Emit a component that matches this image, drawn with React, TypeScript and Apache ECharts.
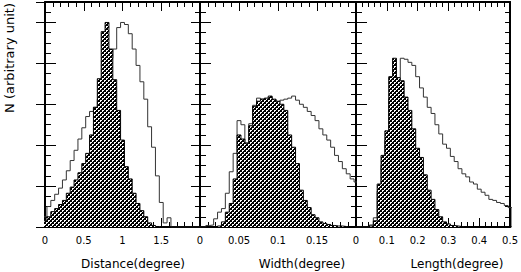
import React, { useEffect, useRef } from "react";
import * as echarts from "echarts";

// Bin widths (bins are centred on multiples of the width)
const distBinWidth = 0.05;
const widthBinWidth = 0.005;
const lengthBinWidth = 0.0125;

// Distance panel (0 - 2 degree)
const distHatched = [0.6, 1.0, 1.5, 1.8, 2.2, 2.6, 3.3, 3.9, 4.6, 5.3, 6.2, 7.2, 9.0, 11.7, 14.5, 19.1, 20.0, 17.4, 14.4, 11.4, 8.5, 5.9, 4.7, 3.3, 2.3, 1.6, 1.0, 0.4, 0.15, 0.05, 0, 0, 0, 0, 0, 0, 0, 0, 0, 0, 0];
const distOutline = [1.0, 2.0, 2.6, 3.2, 3.8, 4.6, 5.5, 6.5, 7.5, 8.6, 9.7, 10.8, 11.3, 11.7, 12.5, 13.5, 15.0, 16.5, 17.4, 19.5, 20.0, 19.8, 18.9, 17.4, 15.8, 14.2, 12.5, 9.8, 7.8, 5.0, 2.4, 0.4, 0.9, 0, 0, 0, 0, 0, 0, 0, 0];

// Width panel (0 - 0.2 degree)
const widthHatched = [0, 0, 0, 0, 0, 0.1, 0.5, 1.45, 2.3, 4.7, 9.0, 8.6, 8.2, 9.9, 11.8, 12.3, 12.5, 12.6, 12.8, 12.5, 12.3, 12.0, 11.4, 9.0, 7.8, 6.2, 3.6, 2.6, 1.9, 1.2, 0.9, 0.5, 0.35, 0.25, 0.15, 0.1, 0.1, 0.05, 0, 0, 0];
const widthOutline = [0, 0, 0.15, 0.2, 0.8, 1.45, 1.8, 3.3, 5.4, 7.2, 10.4, 10.0, 8.2, 10.1, 11.9, 12.6, 12.5, 12.4, 12.7, 12.4, 12.2, 12.4, 12.5, 12.6, 12.8, 12.4, 12.0, 11.7, 11.3, 10.9, 10.4, 9.6, 9.0, 8.5, 7.8, 7.0, 6.4, 5.7, 5.2, 4.7, 4.4];

// Length panel (0 - 0.5 degree)
const lengthHatched = [0, 0, 0, 0, 0.1, 0.6, 4.2, 7.0, 9.4, 14.7, 16.5, 14.6, 14.3, 12.7, 11.4, 9.6, 7.7, 6.8, 5.1, 3.6, 2.7, 1.7, 1.0, 0.5, 0.3, 0.15, 0.1, 0.05, 0, 0, 0, 0, 0, 0, 0, 0, 0, 0, 0, 0, 0];
const lengthOutline = [0, 0, 0, 0, 0.2, 0.9, 3.5, 6.0, 8.5, 12.5, 14.0, 14.6, 16.5, 16.4, 16.1, 15.8, 14.7, 13.6, 12.7, 11.7, 11.1, 10.0, 9.1, 8.1, 7.7, 6.9, 6.4, 5.7, 5.2, 4.9, 4.4, 4.2, 3.7, 3.4, 3.1, 2.7, 2.6, 2.4, 2.3, 2.1, 1.9];

const xMaxes = [2, 0.2, 0.5];
const xIntervals = [0.5, 0.05, 0.1];
const xTitles = ["Distance(degree)", "Width(degree)", "Length(degree)"];
const yTitle = "N (arbitrary unit)";
const yMax = 22;

const panels = [
  { width: distBinWidth, hatched: distHatched, outline: distOutline },
  { width: widthBinWidth, hatched: widthHatched, outline: widthOutline },
  { width: lengthBinWidth, hatched: lengthHatched, outline: lengthOutline },
];

const gridBoxes = [
  { left: 45, top: 2, width: 155, height: 225 },
  { left: 200, top: 2, width: 156, height: 225 },
  { left: 356, top: 2, width: 155, height: 225 },
];
const titleCenters = [133, 302, 457];

function stepPoints(values: number[], w: number): number[][] {
  const pts: number[][] = [];
  pts.push([-w / 2, 0]);
  values.forEach((v, k) => pts.push([k * w - w / 2, v]));
  pts.push([values.length * w - w / 2, 0]);
  return pts;
}

function makePattern(): HTMLCanvasElement {
  const c = document.createElement("canvas");
  c.width = 4;
  c.height = 4;
  const ctx = c.getContext("2d")!;
  ctx.fillStyle = "#000";
  ctx.fillRect(0, 0, 4, 4);
  ctx.fillStyle = "#fff";
  ctx.fillRect(0, 0, 2, 1);
  ctx.fillRect(0, 1, 1, 1);
  ctx.fillRect(2, 2, 2, 1);
  ctx.fillRect(2, 3, 1, 1);
  return c;
}

const FONT = "DejaVu Sans";

export default function App() {
  const ref = useRef<HTMLDivElement>(null);
  useEffect(() => {
    if (!ref.current) return;
    const chart = echarts.init(ref.current, null, { renderer: "svg" });
    const pattern = { image: makePattern(), repeat: "repeat", imageWidth: 4, imageHeight: 4 };
    const frame = { show: true, onZero: false, lineStyle: { color: "#000", width: 2 } };
    const fmt = (v: number) => String(Math.round(v * 1000) / 1000);

    const xAxis: any[] = [];
    for (let i = 0; i < 3; i++) {
      xAxis.push({
        type: "value", gridIndex: i, min: 0, max: xMaxes[i], interval: xIntervals[i], position: "bottom",
        axisLine: frame,
        axisTick: { show: true, inside: true, length: 9, lineStyle: { color: "#000", width: 1 } },
        minorTick: { show: true, splitNumber: 5, length: 5, lineStyle: { color: "#000", width: 1 } },
        splitLine: { show: false }, minorSplitLine: { show: false },
        axisLabel: { show: true, margin: 8, color: "#000", fontSize: 10, fontFamily: FONT, showMinLabel: true, showMaxLabel: i === 2, formatter: fmt },
      });
    }
    for (let i = 0; i < 3; i++) {
      xAxis.push({
        type: "value", gridIndex: i, min: 0, max: xMaxes[i], interval: xIntervals[i], position: "top",
        axisLine: frame,
        axisTick: { show: true, inside: true, length: 9, lineStyle: { color: "#000", width: 1 } },
        minorTick: { show: true, splitNumber: 5, length: 5, lineStyle: { color: "#000", width: 1 } },
        splitLine: { show: false }, minorSplitLine: { show: false },
        axisLabel: { show: false },
      });
    }
    const yAxis: any[] = [];
    const yDefs = [
      { pos: "left", interval: 1, len: 6, line: true },
      { pos: "left", interval: 4, len: 11, line: false },
      { pos: "right", interval: 1, len: 5, line: true },
      { pos: "right", interval: 4, len: 9, line: false },
    ];
    yDefs.forEach((d) => {
      for (let i = 0; i < 3; i++) {
        yAxis.push({
          type: "value", gridIndex: i, min: 0, max: yMax, interval: d.interval, position: d.pos,
          axisLine: d.line ? frame : { show: false },
          axisTick: { show: true, inside: true, length: d.len, lineStyle: { color: "#000", width: 1 } },
          splitLine: { show: false },
          axisLabel: { show: false },
        });
      }
    });

    const series: any[] = [];
    panels.forEach((p, i) => {
      series.push({
        type: "line", xAxisIndex: i, yAxisIndex: i, step: "end", symbol: "none", silent: true, z: 2,
        data: stepPoints(p.outline, p.width),
        lineStyle: { color: "#333", width: 1 },
      });
      series.push({
        type: "line", xAxisIndex: i, yAxisIndex: i, step: "end", symbol: "none", silent: true, z: 3,
        data: stepPoints(p.hatched, p.width),
        lineStyle: { color: "#000", width: 1 },
        areaStyle: { color: pattern, opacity: 1 },
      });
    });

    const graphic: any[] = xTitles.map((t, i) => ({
      type: "text", x: titleCenters[i], y: 264,
      style: { text: t, fontSize: 12, fontFamily: FONT, fill: "#000", align: "center", verticalAlign: "middle" },
    }));
    graphic.push({
      type: "text", x: 9, y: 58, rotation: Math.PI / 2,
      style: { text: yTitle, fontSize: 13, fontFamily: FONT, fill: "#000", align: "center", verticalAlign: "middle" },
    });

    chart.setOption({
      animation: false,
      backgroundColor: "#fff",
      grid: gridBoxes,
      xAxis,
      yAxis,
      series,
      graphic,
    });
    return () => chart.dispose();
  }, []);
  return <div ref={ref} style={{ position: "fixed", left: 0, top: 0, width: 521, height: 272 }} />;
}
